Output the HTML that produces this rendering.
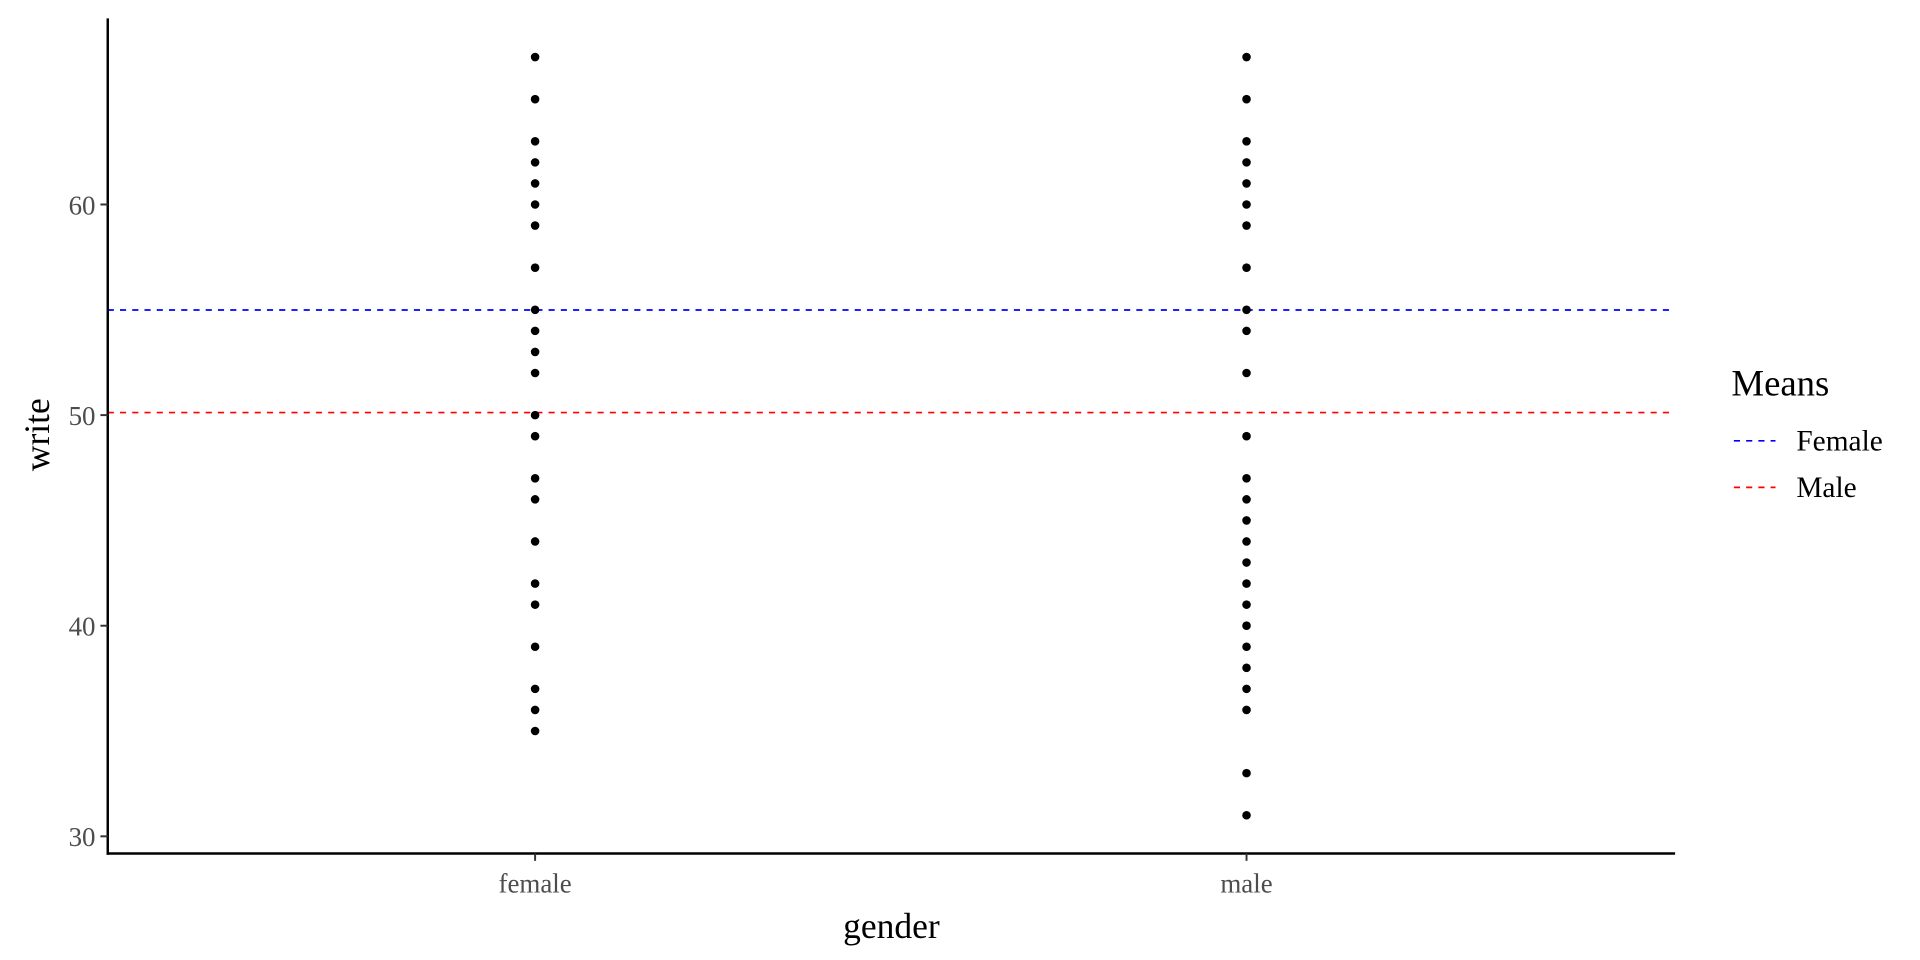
<!DOCTYPE html>
<html><head><meta charset="utf-8"><style>
html,body{margin:0;padding:0;background:#fff;}
svg{display:block;}
text{font-family:"Liberation Serif",serif;}
</style></head><body>
<svg id="chart" width="1920" height="960" viewBox="0 0 1568 784" xmlns="http://www.w3.org/2000/svg">
<g id="plot"></g>
</svg>
<script>
const categories = ["female", "male"];
const femaleValues = [67,65,63,62,61,60,59,57,55,54,53,52,50,49,47,46,44,42,41,39,37,36,35];
const maleValues = [67,65,63,62,61,60,59,57,55,54,52,49,47,46,45,44,43,42,41,40,39,38,37,36,33,31];
const yTicks = [30, 40, 50, 60];
const meanNames = ["Female", "Male"];
const meanValues = [54.99, 50.12];
const meanColors = ["#0000ff", "#ff0000"];

const NS = "http://www.w3.org/2000/svg";
const g = document.getElementById('plot');
const L = 88, R = 1368, T = 15, B = 697;
function y(v){ return 683 - (v - 30) * 17.2; }
function x(i){ return 437 + i * 581; }
function el(tag, attrs, parent){
  const e = document.createElementNS(NS, tag);
  for (const k in attrs) e.setAttribute(k, attrs[k]);
  (parent || g).appendChild(e);
  return e;
}

meanValues.forEach((m, i) => {
  const ln = el('line', {x1: L, x2: R, y1: y(m), y2: y(m), stroke: meanColors[i], 'stroke-width': 1.4, 'stroke-dasharray': '5 5'});
  
  
});

[femaleValues, maleValues].forEach((vals, ci) => {
  vals.forEach(v => {
    const c = el('circle', {cx: x(ci), cy: y(v), r: 3.5, fill: '#000'});
    
    
  });
});

const ya = el('line', {x1: L, x2: L, y1: T, y2: B + 1, stroke: '#000', 'stroke-width': 2});


const xa = el('line', {x1: L - 1, x2: R, y1: B, y2: B, stroke: '#000', 'stroke-width': 2});



yTicks.forEach(t => {
  const tk = el('line', {x1: L - 6, x2: L, y1: y(t), y2: y(t), stroke: '#333', 'stroke-width': 1.6});
  
  
  const lb = el('text', {x: L - 10, y: y(t) + 8, 'text-anchor': 'end', 'font-size': 22, fill: '#4d4d4d'});
  lb.textContent = t;
  
  
});
categories.forEach((c, i) => {
  const tk = el('line', {x1: x(i), x2: x(i), y1: B, y2: B + 6, stroke: '#333', 'stroke-width': 1.6});
  
  
  const lb = el('text', {x: x(i), y: 729, 'text-anchor': 'middle', 'font-size': 22, fill: '#4d4d4d'});
  lb.textContent = c;
  
  
});

const xt = el('text', {x: 728, y: 766, 'text-anchor': 'middle', 'font-size': 29, fill: '#000'});
xt.textContent = 'gender';


const yt = el('text', {x: 0, y: 0, 'text-anchor': 'middle', 'font-size': 29, fill: '#000', transform: 'translate(40,355) rotate(-90)'});
yt.textContent = 'write';



const lg = el('g', {});


const lt = el('text', {x: 1414, y: 323, 'font-size': 30, fill: '#000'}, lg);
lt.textContent = 'Means';


meanNames.forEach((n, i) => {
  const yy = 360 + i * 38;
  const ln = el('line', {x1: 1416, x2: 1450, y1: yy, y2: yy, stroke: meanColors[i], 'stroke-width': 1.4, 'stroke-dasharray': '5 5'}, lg);
  
  
  const tx = el('text', {x: 1467, y: yy + 8, 'font-size': 24, fill: '#000'}, lg);
  tx.textContent = n;
  
  
});
</script>
</body></html>
